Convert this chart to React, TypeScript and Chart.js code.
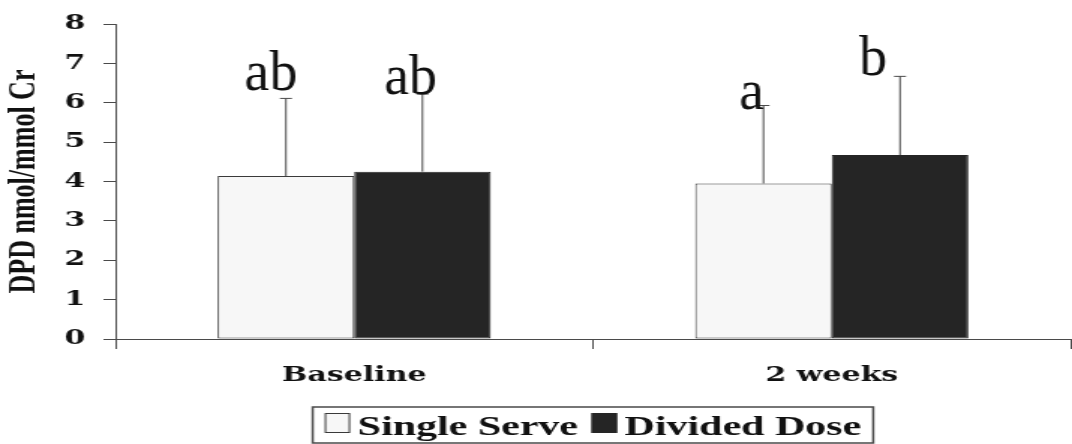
import React, { useEffect, useRef } from 'react';
import { Chart, registerables } from 'chart.js';

Chart.register(...registerables);

// ---------- data ----------
const categories = ['Baseline', '2 weeks'];
const seriesNames = ['Single Serve', 'Divided Dose'];
const singleServe = [4.14, 3.95];
const dividedDose = [4.25, 4.67];
const singleServeErr = [1.97, 1.98];
const dividedDoseErr = [1.97, 2.0];
const singleServeLetters = ['ab', 'a'];
const dividedDoseLetters = ['ab', 'b'];
const yMin = 0;
const yMax = 8;
const yStep = 1;
const yTitle = 'DPD nmol/mmol Cr';

// ---------- styles ----------
const CSS_W = 1072;
const CSS_H = 444;
const BUF_W = 715; // drawing buffer is stretched horizontally like the reference
const SX = CSS_W / BUF_W;
const singleFill = '#f7f7f7';
const singleBorder = '#3a3a3a';
const dividedFill = '#252525';
const axisColor = '#4a4a4a';
const textColor = '#111111';
// placement nudges of the letters, in screen px: [dx, dy] per dataset / category
const letterNudge = [
  [[-15, -8], [-12, 3]],
  [[-12, 0], [-27, -1]],
];

const errorBarsPlugin = {
  id: 'errorBarsLetters',
  afterDatasetsDraw(chart: any) {
    const ctx = chart.ctx;
    const y = chart.scales.y;
    chart.data.datasets.forEach((ds: any, i: number) => {
      const meta = chart.getDatasetMeta(i);
      meta.data.forEach((bar: any, j: number) => {
        const v = ds.data[j];
        const e = ds.errors[j];
        const top = y.getPixelForValue(v + e);
        ctx.save();
        ctx.strokeStyle = axisColor;
        ctx.lineWidth = 1;
        ctx.beginPath();
        ctx.moveTo(bar.x, bar.y);
        ctx.lineTo(bar.x, top);
        ctx.moveTo(bar.x - 4, top);
        ctx.lineTo(bar.x + 4, top);
        ctx.stroke();
        // significance letters, drawn unstretched
        const [dx, dy] = letterNudge[i][j];
        ctx.fillStyle = textColor;
        ctx.font = '56px "Liberation Serif"';
        ctx.textAlign = 'center';
        ctx.textBaseline = 'alphabetic';
        ctx.translate(bar.x + dx / SX, top + dy);
        ctx.scale(1 / SX, 1);
        ctx.fillText(ds.letters[j], 0, 0);
        ctx.restore();
      });
    });
  },
};

const legendPlugin = {
  id: 'boxedLegend',
  afterDraw(chart: any) {
    const ctx = chart.ctx;
    const ca = chart.chartArea;
    ctx.save();
    ctx.font = 'bold 28px "Liberation Serif"';
    const boxW = 17;
    const boxH = 20;
    const gap = 5;
    const itemGap = 9;
    const padX = 8;
    const widths = seriesNames.map((n) => ctx.measureText(n).width);
    const total =
      widths.reduce((a, w) => a + boxW + gap + w, 0) + itemGap * (seriesNames.length - 1);
    let x = (ca.left + ca.right) / 2 - total / 2;
    const frameTop = 407;
    const frameBottom = 443;
    ctx.strokeStyle = axisColor;
    ctx.lineWidth = 1.5;
    ctx.strokeRect(x - padX, frameTop, total + padX * 2, frameBottom - frameTop);
    const baseline = 435;
    seriesNames.forEach((name, i) => {
      const ds = chart.data.datasets[i];
      ctx.fillStyle = ds.backgroundColor;
      ctx.fillRect(x, baseline - 2 - boxH, boxW, boxH);
      ctx.strokeStyle = ds.borderColor;
      ctx.lineWidth = 1;
      ctx.strokeRect(x + 0.5, baseline - 2 - boxH + 0.5, boxW - 1, boxH - 1);
      x += boxW + gap;
      ctx.fillStyle = textColor;
      ctx.textAlign = 'left';
      ctx.textBaseline = 'alphabetic';
      ctx.fillText(name, x, baseline);
      x += widths[i] + itemGap;
    });
    ctx.restore();
  },
};

export default function App() {
  const ref = useRef<HTMLCanvasElement | null>(null);

  useEffect(() => {
    document.body.style.margin = '0';
    if (!ref.current) return;
    const chart = new Chart(ref.current, {
      type: 'bar',
      data: {
        labels: categories,
        datasets: [
          {
            label: seriesNames[0],
            data: singleServe,
            errors: singleServeErr,
            letters: singleServeLetters,
            backgroundColor: singleFill,
            borderColor: singleBorder,
            borderWidth: 1,
            borderSkipped: false,
            categoryPercentage: 0.572,
            barPercentage: 1.0,
          } as any,
          {
            label: seriesNames[1],
            data: dividedDose,
            errors: dividedDoseErr,
            letters: dividedDoseLetters,
            backgroundColor: dividedFill,
            borderColor: dividedFill,
            borderWidth: 1,
            borderSkipped: false,
            categoryPercentage: 0.572,
            barPercentage: 1.0,
          } as any,
        ],
      },
      options: {
        responsive: false,
        devicePixelRatio: 1,
        animation: false,
        layout: { padding: { top: 22, right: 1, bottom: 0, left: 0 } },
        plugins: {
          legend: { display: false },
          tooltip: { enabled: false },
        },
        scales: {
          x: {
            afterFit: (s: any) => {
              s.height = 105;
            },
            border: { display: true, color: axisColor, width: 1 },
            grid: {
              offset: true,
              drawOnChartArea: false,
              drawTicks: true,
              tickLength: 10,
              color: axisColor,
            },
            ticks: {
              padding: 15,
              color: textColor,
              font: { family: '"DejaVu Serif"', weight: 'bold', size: 20 },
            },
          },
          y: {
            min: yMin,
            max: yMax,
            afterFit: (s: any) => {
              s.width = 77;
            },
            border: { display: true, color: axisColor, width: 1 },
            grid: {
              drawOnChartArea: false,
              drawTicks: true,
              tickLength: 8,
              color: axisColor,
            },
            ticks: {
              stepSize: yStep,
              padding: 12,
              color: textColor,
              font: { family: '"DejaVu Serif"', weight: 'bold', size: 20 },
            },
            title: {
              display: true,
              text: yTitle,
              color: textColor,
              padding: { top: 1, bottom: 0 },
              font: { family: '"Liberation Serif"', weight: 'bold', size: 26 },
            },
          },
        },
      } as any,
      plugins: [errorBarsPlugin, legendPlugin],
    });
    return () => chart.destroy();
  }, []);

  return (
    <canvas
      ref={ref}
      width={BUF_W}
      height={CSS_H}
      style={{ display: 'block', width: CSS_W + 'px', height: CSS_H + 'px' }}
    />
  );
}
